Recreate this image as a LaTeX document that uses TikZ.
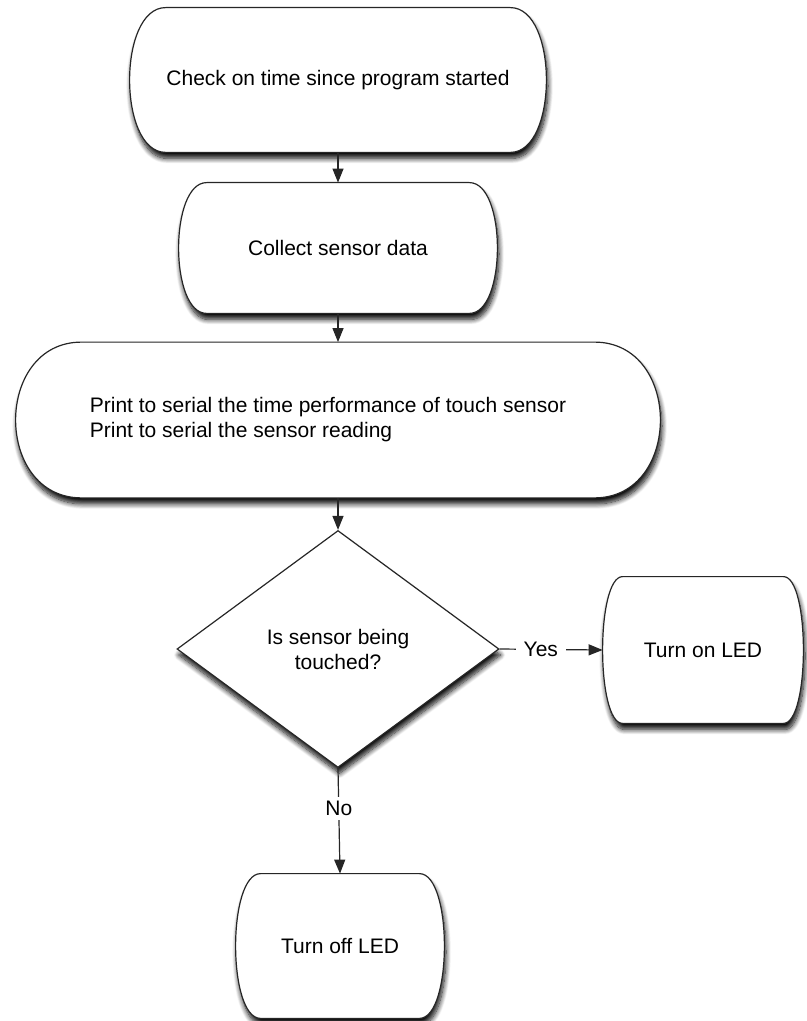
\documentclass[tikz,border=0pt]{standalone}
\usepackage{fontspec}
\setmainfont{Liberation Sans}
\usetikzlibrary{shapes.geometric,arrows.meta,shadows.blur,backgrounds}

% outline of a terminal box round node #1, sides bulging out by #2
\newcommand{\termoutline}[2]{%
  \draw[termline] ([shift={(#2,0)}]#1.north west) -- ([shift={(-#2,0)}]#1.north east)
    .. controls +({4*#2/3},0) and +({4*#2/3},0) .. ([shift={(-#2,0)}]#1.south east)
    -- ([shift={(#2,0)}]#1.south west)
    .. controls +({-4*#2/3},0) and +({-4*#2/3},0) .. ([shift={(#2,0)}]#1.north west) -- cycle;}

\tikzset{
  boxfont/.style={font=\fontsize{10.5}{12.5}\selectfont},
  softshadow/.style={blur shadow={shadow xshift=0.8pt, shadow yshift=-3pt,
    shadow blur radius=2.5pt, shadow blur steps=10, shadow opacity=95}},
  termbox/.style={boxfont, rectangle, align=center, inner sep=0pt},
  termline/.style={draw=black!85, line width=0.6pt, fill=white, softshadow},
  decision/.style={boxfont, diamond, align=center, inner sep=1pt, draw=black!85,
    line width=0.6pt, fill=white, softshadow},
  flow/.style={-{Triangle[length=7pt,width=5.5pt]}, line width=0.6pt, draw=black!85},
  branch/.style={boxfont, fill=white, inner xsep=4pt, inner ysep=2pt},
}

\begin{document}
\begin{tikzpicture}[x=0.5pt, y=-0.5pt]
  \useasboundingbox (0,0) rectangle (807,1021);

  % process steps
  \node[termbox, minimum width=208pt, minimum height=72pt] (start) at (338,80)
    {Check on time since program started};
  \node[termbox, minimum width=159pt, minimum height=65pt] (collect) at (338,248)
    {Collect sensor data};
  \node[termbox, align=left, minimum width=322pt, minimum height=77.5pt] (print) at (338,420)
    {Print to serial the time performance of touch sensor\hspace*{10pt}\\Print to serial the sensor reading};

  % decision and outcomes
  \node[decision, minimum width=161pt, minimum height=118.5pt] (touched) at (338,649)
    {Is sensor being\\touched?};
  \node[termbox, minimum width=100pt, minimum height=73pt] (ledon) at (703,650)
    {Turn on LED};
  \node[termbox, minimum width=104pt, minimum height=72pt] (ledoff) at (340,946)
    {Turn off LED};

  \begin{scope}[on background layer]
    \termoutline{start}{36}
    \termoutline{collect}{28}
    \termoutline{print}{66}
    \termoutline{ledon}{20}
    \termoutline{ledoff}{25}
  \end{scope}

  % connectors
  \draw[flow] (start.south) -- (collect.north);
  \draw[flow] (collect.south) -- (print.north);
  \draw[flow] (print.south) -- (touched.north);
  \draw[flow] (touched.east) -- node[branch, pos=0.4] {Yes} (ledon.west);
  \draw[flow] (touched.south) -- node[branch, pos=0.38] {No} (ledoff.north);
\end{tikzpicture}
\end{document}
